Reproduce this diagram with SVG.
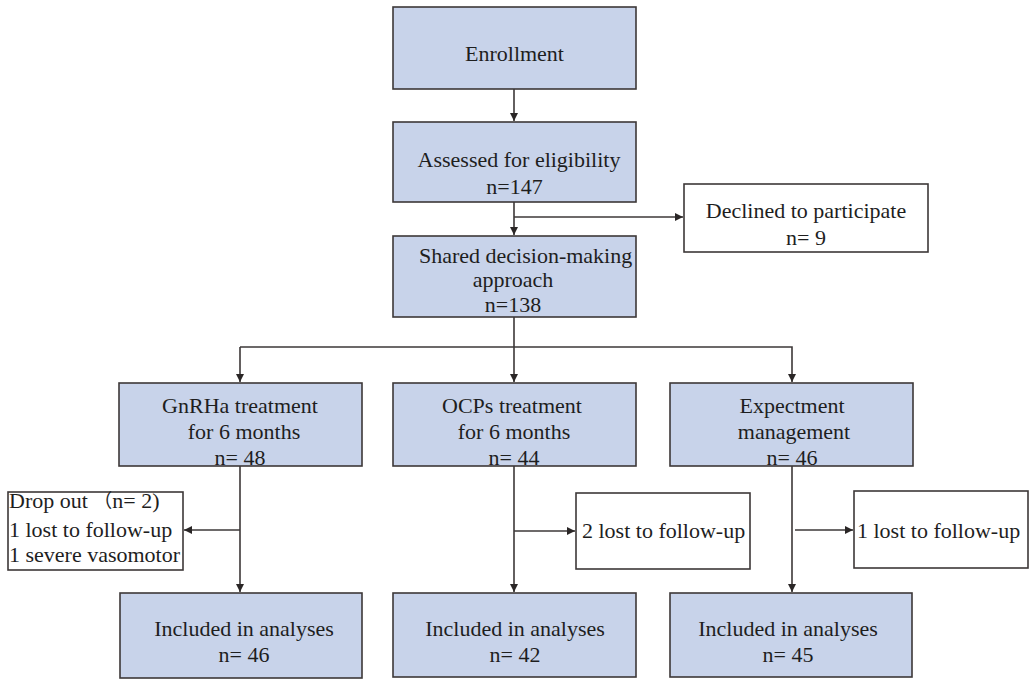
<svg xmlns="http://www.w3.org/2000/svg" width="1029" height="680" viewBox="0 0 1029 680">
<style>
.b{fill:#c8d3ea;stroke:#3d3838;stroke-width:1.6}
.w{fill:#ffffff;stroke:#3d3838;stroke-width:1.6}
text{font-family:"Liberation Serif","Times New Roman",serif;font-size:22px;fill:#1e1e1e}
.c{text-anchor:middle}
.l{fill:none;stroke:#3d3838;stroke-width:1.6}
</style>
<defs>
<marker id="a" viewBox="0 0 10 10" refX="10" refY="5" markerWidth="5" markerHeight="5" markerUnits="strokeWidth" orient="auto">
<path d="M0,0 L10,5 L0,10 Z" fill="#2a2626"/>
</marker>
</defs>
<g id="connectors">
<line class="l" x1="514" y1="89" x2="514" y2="121" marker-end="url(#a)"/>
<line class="l" x1="514" y1="202" x2="514" y2="235" marker-end="url(#a)"/>
<line class="l" x1="514" y1="217" x2="683" y2="217" marker-end="url(#a)"/>
<line class="l" x1="514" y1="317" x2="514" y2="382" marker-end="url(#a)"/>
<polyline class="l" points="240,347 792,347 792,382" marker-end="url(#a)"/>
<line class="l" x1="240" y1="347" x2="240" y2="382" marker-end="url(#a)"/>
<line class="l" x1="240" y1="466" x2="240" y2="592" marker-end="url(#a)"/>
<line class="l" x1="240" y1="530" x2="184" y2="530" marker-end="url(#a)"/>
<line class="l" x1="514" y1="466" x2="514" y2="592" marker-end="url(#a)"/>
<line class="l" x1="514" y1="531" x2="575" y2="531" marker-end="url(#a)"/>
<line class="l" x1="792" y1="466" x2="792" y2="592" marker-end="url(#a)"/>
<line class="l" x1="795" y1="530" x2="853" y2="530" marker-end="url(#a)"/>
</g>
<g id="enrollment">
<rect class="b" x="393" y="7" width="243" height="82"/>
<text class="c" x="514.5" y="61">Enrollment</text>
</g>
<g id="assessed">
<rect class="b" x="393" y="122" width="243" height="80"/>
<text class="c" x="519" y="167">Assessed for eligibility</text>
<text class="c" x="514.5" y="194">n=147</text>
</g>
<g id="declined">
<rect class="w" x="684" y="184" width="244" height="68"/>
<text class="c" x="806" y="218">Declined to participate</text>
<text class="c" x="806" y="245">n= 9</text>
</g>
<g id="shared">
<rect class="b" x="393" y="236" width="243" height="81"/>
<text x="419" y="263">Shared decision-making</text>
<text class="c" x="513" y="287">approach</text>
<text class="c" x="513" y="312">n=138</text>
</g>
<g id="gnrha">
<rect class="b" x="119" y="383" width="243" height="83"/>
<text class="c" x="240" y="413">GnRHa treatment</text>
<text class="c" x="244" y="439">for 6 months</text>
<text class="c" x="240" y="465">n= 48</text>
</g>
<g id="ocps">
<rect class="b" x="393" y="383" width="243" height="83"/>
<text class="c" x="512" y="413">OCPs treatment</text>
<text class="c" x="514" y="439">for 6 months</text>
<text class="c" x="514" y="465">n= 44</text>
</g>
<g id="expect">
<rect class="b" x="670" y="383" width="243" height="83"/>
<text class="c" x="792" y="413">Expectment</text>
<text class="c" x="794" y="439">management</text>
<text class="c" x="792" y="465">n= 46</text>
</g>
<g id="dropout">
<rect class="w" x="8" y="492" width="175" height="78"/>
<text x="9" y="508">Drop out <tspan font-family="'Noto Sans CJK SC',sans-serif" font-size="19">（</tspan>n= 2)</text>
<text x="9" y="537">1 lost to follow-up</text>
<text x="9" y="562">1 severe vasomotor</text>
</g>
<g id="ocps-lost">
<rect class="w" x="576" y="493" width="174" height="76"/>
<text x="582" y="538">2 lost to follow-up</text>
</g>
<g id="expect-lost">
<rect class="w" x="854" y="491" width="174" height="77"/>
<text x="857" y="538">1 lost to follow-up</text>
</g>
<g id="gnrha-incl">
<rect class="b" x="120" y="593" width="242" height="85"/>
<text class="c" x="244" y="636">Included in analyses</text>
<text class="c" x="244" y="662">n= 46</text>
</g>
<g id="ocps-incl">
<rect class="b" x="393" y="593" width="243" height="84"/>
<text class="c" x="515" y="636">Included in analyses</text>
<text class="c" x="515" y="662">n= 42</text>
</g>
<g id="expect-incl">
<rect class="b" x="670" y="593" width="242" height="84"/>
<text class="c" x="788" y="636">Included in analyses</text>
<text class="c" x="788" y="662">n= 45</text>
</g>
</svg>
